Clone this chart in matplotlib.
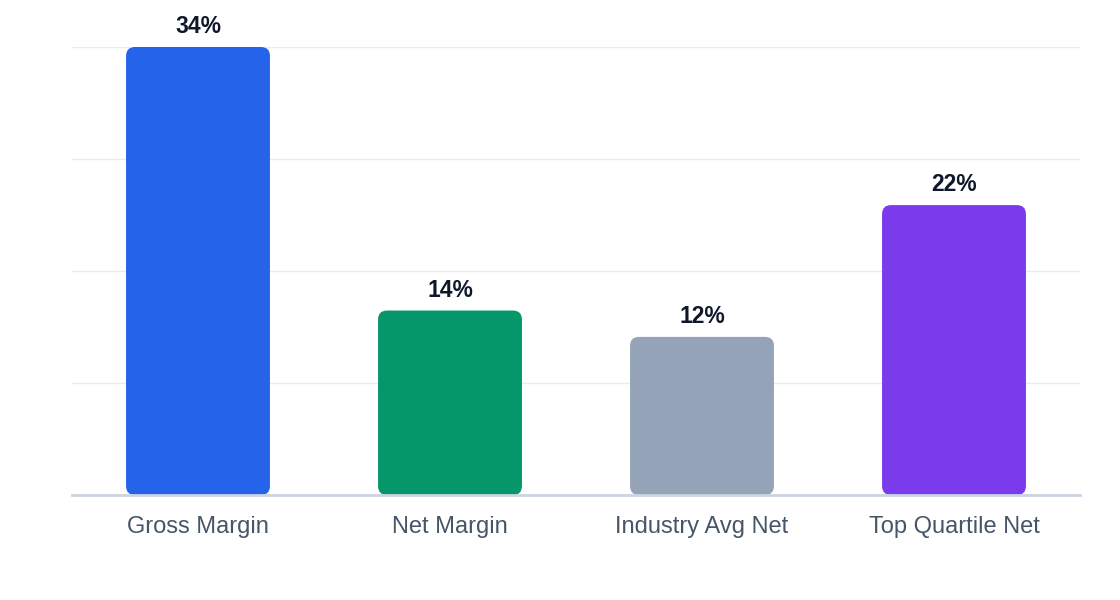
import numpy as np
import matplotlib
matplotlib.use("Agg")
import matplotlib.pyplot as plt
from matplotlib.patches import FancyBboxPatch

plt.rcParams['font.family'] = ['Liberation Sans', 'DejaVu Sans']

categories = ['Gross Margin', 'Net Margin', 'Industry Avg Net', 'Top Quartile Net']
values = [34, 14, 12, 22]
colors = ['#2563EB', '#059669', '#94A3B8', '#7C3AED']

fig = plt.figure(figsize=(11.2, 6), dpi=100)
ax = fig.add_axes([72 / 1120, 105 / 600, 1008 / 1120, 448 / 600])

x = np.arange(len(categories))
width = 0.571
ax.set_xlim(-0.5, len(categories) - 0.5)
ax.set_ylim(0, 34)

# rounded bars: radius in pixels converted to data units
bbox = ax.get_window_extent()
px_x = bbox.width / (ax.get_xlim()[1] - ax.get_xlim()[0])
px_y = bbox.height / (ax.get_ylim()[1] - ax.get_ylim()[0])
radius_px = 9
r = radius_px / px_x
aspect = px_x / px_y

for xi, v, c in zip(x, values, colors):
    patch = FancyBboxPatch((xi - width / 2, 0), width, v,
                           boxstyle="round,pad=0,rounding_size=%f" % r,
                           mutation_aspect=aspect,
                           facecolor=c, edgecolor='none', zorder=2)
    ax.add_patch(patch)
    ax.annotate('%d%%' % v, (xi, v), xytext=(0, 6.5), textcoords='offset points',
                ha='center', va='bottom', fontsize=16.5, fontweight='bold',
                color='#0F172A', zorder=4)

ax.set_yticks(np.linspace(0, 34, 5))
ax.set_yticklabels([])
ax.tick_params(axis='y', length=0)
ax.grid(axis='y', color='#E8EBF0', linewidth=1, zorder=0)
ax.set_axisbelow(True)

ax.set_xticks(x)
ax.set_xticklabels(categories, fontsize=17, color='#475569')
ax.tick_params(axis='x', length=0, pad=15)

for s in ['top', 'right', 'left']:
    ax.spines[s].set_visible(False)
ax.spines['bottom'].set_color('#CBD5E1')
ax.spines['bottom'].set_linewidth(2)
ax.spines['bottom'].set_zorder(3)

plt.savefig('out.png', dpi=100)
